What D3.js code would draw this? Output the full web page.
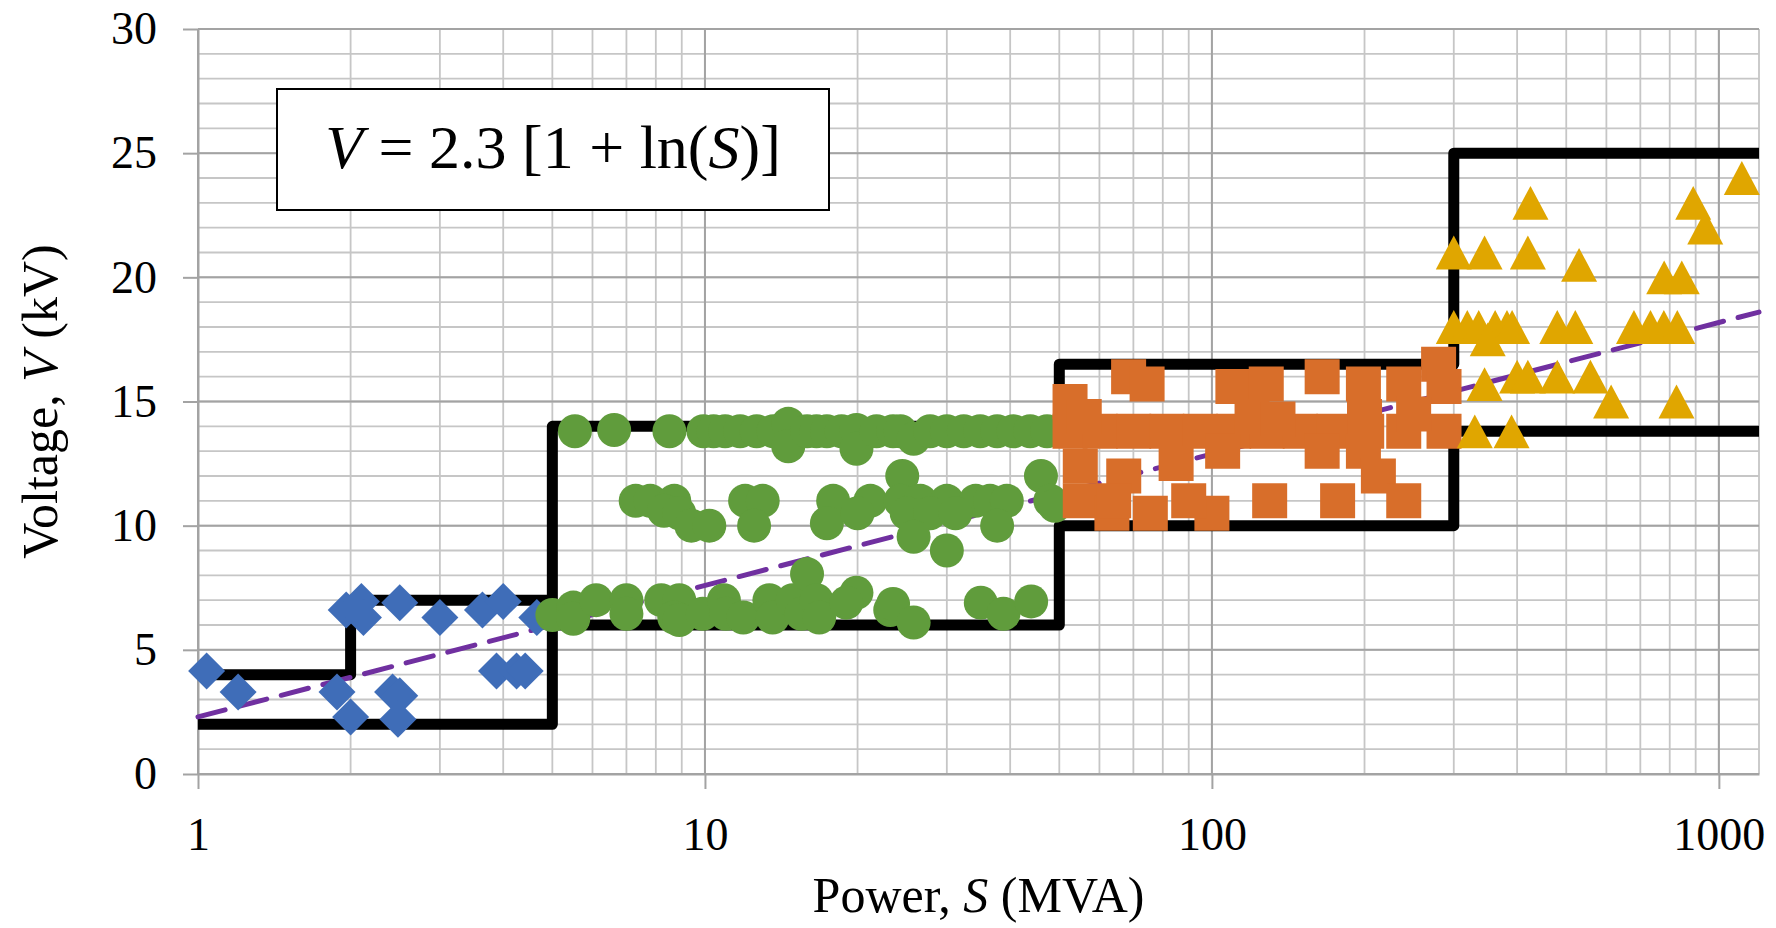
<!DOCTYPE html>
<html>
<head>
<meta charset="utf-8">
<script src="https://cdn.jsdelivr.net/npm/d3@7"></script>
<style>
  body { margin: 0; background: #fff; }
  svg { display: block; font-family: "Liberation Serif", "Times New Roman", serif; }
</style>
</head>
<body>
<svg id="chart" width="1776" height="928"></svg>
<script>
// ---- data ----
// blue diamonds
const blueS = [1.04, 1.2, 1.96, 2.1, 2.12, 1.88, 2.0, 2.5, 3.0, 2.42, 2.5, 2.48, 3.64, 4.0, 3.88, 4.25, 4.42, 4.66];
const blueV = [4.15, 3.3, 6.6, 6.95, 6.3, 3.3, 2.3, 6.9, 6.3, 3.3, 3.15, 2.2, 6.6, 6.95, 4.15, 4.15, 4.15, 6.3];

// green circles
const greenS = [
  5.54, 6.62, 8.51, 9.93, 10.4, 10.96, 11.73, 12.65, 13.65, 14.6, 14.6, 15.9, 16.6, 17.4, 18.6, 19.9, 19.9, 21.8, 23.5, 24.3, 25.8, 27.8, 30.0, 32.4, 34.9, 37.7, 40.6, 43.8, 47.3,
  7.3, 7.8, 8.7, 8.3, 8.9, 9.4, 10.2, 12.0, 13.0, 12.5, 17.9, 21.2, 17.4, 20.0, 24.5, 46.0, 24.3, 26.6, 30.0, 34.2, 36.5, 39.4, 25.0, 27.8, 31.2, 37.7, 25.8, 30.0, 48.0, 49.0,
  5.0, 5.5, 5.5, 6.1, 7.0, 7.0, 8.2, 8.9, 8.7, 8.9, 9.9, 10.9, 11.0, 11.9, 13.4, 13.6, 14.9, 15.9, 15.5, 16.6, 16.8, 19.9, 19.0, 23.2, 23.5, 25.8, 35.0, 38.8, 44.0
];
const greenV = [
  13.8, 13.85, 13.8, 13.8, 13.8, 13.8, 13.8, 13.8, 13.8, 14.1, 13.2, 13.8, 13.8, 13.8, 13.8, 13.85, 13.1, 13.8, 13.8, 13.8, 13.5, 13.8, 13.8, 13.8, 13.8, 13.8, 13.8, 13.8, 13.8,
  11.0, 11.0, 11.0, 10.6, 10.5, 10.0, 10.0, 11.0, 11.0, 10.0, 11.0, 11.0, 10.1, 10.5, 12.0, 12.0, 11.0, 11.0, 11.0, 11.0, 11.0, 11.0, 10.5, 10.5, 10.5, 10.0, 9.55, 9.0, 11.0, 10.8,
  6.4, 6.7, 6.25, 7.0, 7.0, 6.45, 7.0, 7.0, 6.3, 6.2, 6.45, 7.0, 6.45, 6.3, 7.0, 6.3, 7.0, 8.05, 6.45, 7.0, 6.3, 7.3, 6.9, 6.6, 6.85, 6.1, 6.9, 6.45, 6.95
];

// orange squares
const orangeS = [
  52.5, 60.2, 70.1, 81.5, 94.9, 110.4, 128.5, 149.4, 174, 202, 239,
  52.5, 56, 55, 55, 68.5, 74.5, 67, 85, 63.5, 75.6, 100, 64, 90, 105, 110, 128, 130,
  165, 165, 199, 199, 177, 213, 239, 239, 280, 287, 287, 120, 135, 200, 250
];
const orangeV = [
  13.8, 13.8, 13.8, 13.8, 13.8, 13.8, 13.8, 13.8, 13.8, 13.8, 13.8,
  15.0, 14.4, 12.4, 11.0, 16.0, 15.7, 12.0, 12.5, 10.5, 10.5, 10.5, 11.0, 11.0, 13.0, 15.6, 15.7, 11.0,
  16.0, 13.0, 15.7, 13.0, 11.0, 12.0, 11.0, 15.7, 16.5, 15.6, 13.8, 14.4, 14.3, 14.4, 14.5
];

// yellow triangles
const yellowS = [1110, 890, 940, 425, 300, 345, 420, 530, 780, 845,
  300, 319, 336, 362, 382, 391, 480, 521, 680, 733, 779, 828,
  350, 345, 400, 420, 480, 558, 613, 825, 330, 390];
const yellowV = [24.0, 23.0, 22.0, 23.0, 21.0, 21.0, 21.0, 20.5, 20.0, 20.0,
  18.0, 18.0, 18.0, 18.0, 18.0, 18.0, 18.0, 18.0, 18.0, 18.0, 18.0, 18.0,
  17.5, 15.7, 16.0, 16.0, 16.0, 16.0, 15.0, 15.0, 13.8, 13.8];

// voltage band limits (step lines)
const lowerS = [1, 5, 5, 50, 50, 300, 300, 1200];
const lowerV = [2, 2, 6, 6, 10, 10, 13.8, 13.8];
const upperS = [1, 2, 2, 5, 5, 50, 50, 300, 300, 1200];
const upperV = [4, 4, 7, 7, 14, 14, 16.5, 16.5, 25, 25];

// V = 2.3 [1 + ln(S)] trend line end points
const trendS = [1, 1200];
const trendV = [2.3, 18.6];

const xTicks = [1, 10, 100, 1000];
const yTicks = [0, 5, 10, 15, 20, 25, 30];

// ---- layout ----
const W = 1776, H = 928;
const margin = { top: 29, right: 17, bottom: 154, left: 198 };
const width = W - margin.left - margin.right;
const height = H - margin.top - margin.bottom;

const svg = d3.select("#chart");
const g = svg.append("g").attr("transform", `translate(${margin.left},${margin.top})`);

const x = d3.scaleLog().domain([1, 1200]).range([0, width]);
const y = d3.scaleLinear().domain([0, 30]).range([height, 0]);

// grid: minor
g.append("g").selectAll("line").data(x.ticks().concat([1200])).enter().append("line")
  .attr("x1", d => x(d)).attr("x2", d => x(d)).attr("y1", 0).attr("y2", height)
  .attr("stroke", "#c6c6c6").attr("stroke-width", 1.8);
g.append("g").selectAll("line").data(y.ticks(30)).enter().append("line")
  .attr("x1", 0).attr("x2", width).attr("y1", d => y(d)).attr("y2", d => y(d))
  .attr("stroke", "#c6c6c6").attr("stroke-width", 1.8);
// grid: major
g.append("g").selectAll("line").data(xTicks).enter().append("line")
  .attr("x1", d => x(d)).attr("x2", d => x(d)).attr("y1", 0).attr("y2", height)
  .attr("stroke", "#a3a3a3").attr("stroke-width", 2);
g.append("g").selectAll("line").data(yTicks).enter().append("line")
  .attr("x1", 0).attr("x2", width).attr("y1", d => y(d)).attr("y2", d => y(d))
  .attr("stroke", "#a3a3a3").attr("stroke-width", 2);

// axes
const xAxis = g.append("g").attr("transform", `translate(0,${height})`)
  .call(d3.axisBottom(x).tickValues(xTicks).tickFormat(d3.format("d")).tickSize(15).tickSizeOuter(0).tickPadding(28));
const yAxis = g.append("g")
  .call(d3.axisLeft(y).tickValues(yTicks).tickSize(15).tickSizeOuter(0).tickPadding(26));
[xAxis, yAxis].forEach(a => {
  a.select(".domain").attr("stroke", "#a3a3a3").attr("stroke-width", 2);
  a.selectAll(".tick line").attr("stroke", "#a3a3a3").attr("stroke-width", 2);
  a.selectAll(".tick text").attr("fill", "#000").style("font-size", "46px")
    .style("font-family", '"Liberation Serif", "Times New Roman", serif');
});

// step lines
const line = d3.line().x(d => x(d[0])).y(d => y(d[1]));
[[lowerS, lowerV], [upperS, upperV]].forEach(([s, v]) => {
  g.append("path").datum(d3.zip(s, v)).attr("d", line)
    .attr("fill", "none").attr("stroke", "#000").attr("stroke-width", 11)
    .attr("stroke-linejoin", "round");
});

// trend line
g.append("path").datum(d3.zip(trendS, trendV)).attr("d", line)
  .attr("fill", "none").attr("stroke", "#7030a0").attr("stroke-width", 5)
  .attr("stroke-dasharray", "28,15").attr("stroke-linecap", "round");

// markers
const diamond = { draw(ctx, s) { const r = s / 2; ctx.moveTo(0, -r); ctx.lineTo(r, 0); ctx.lineTo(0, r); ctx.lineTo(-r, 0); ctx.closePath(); } };
const square = { draw(ctx, s) { const r = s / 2; ctx.rect(-r, -r, s, s); } };
const triangle = { draw(ctx, s) { const r = s / 2, h = s * 0.47; ctx.moveTo(0, -h); ctx.lineTo(r, h); ctx.lineTo(-r, h); ctx.closePath(); } };
const circle = { draw(ctx, s) { const r = s / 2; ctx.moveTo(r, 0); ctx.arc(0, 0, r, 0, 2 * Math.PI); } };

const series = [
  { s: blueS, v: blueV, type: diamond, size: 37, color: "#3f6db8" },
  { s: greenS, v: greenV, type: circle, size: 34, color: "#609c3c" },
  { s: orangeS, v: orangeV, type: square, size: 35, color: "#d86e2a" },
  { s: yellowS, v: yellowV, type: triangle, size: 36, color: "#e0a600" }
];
series.forEach(ser => {
  g.append("g").selectAll("path").data(d3.zip(ser.s, ser.v)).enter().append("path")
    .attr("transform", d => `translate(${x(d[0])},${y(d[1])})`)
    .attr("d", d3.symbol().type(ser.type).size(ser.size))
    .attr("fill", ser.color);
});

// equation box
const box = svg.append("g");
box.append("rect").attr("x", 277).attr("y", 89).attr("width", 552).attr("height", 121)
  .attr("fill", "#fff").attr("stroke", "#000").attr("stroke-width", 2);
const eq = box.append("text").attr("x", 553).attr("y", 168).attr("text-anchor", "middle")
  .style("font-size", "62px");
eq.append("tspan").style("font-style", "italic").text("V");
eq.append("tspan").text(" = 2.3 [1 + ln(");
eq.append("tspan").style("font-style", "italic").text("S");
eq.append("tspan").text(")]");

// axis titles
const xt = svg.append("text").attr("x", margin.left + width / 2).attr("y", 912)
  .attr("text-anchor", "middle").style("font-size", "50px");
xt.append("tspan").text("Power, ");
xt.append("tspan").style("font-style", "italic").text("S");
xt.append("tspan").text(" (MVA)");

const yt = svg.append("text").attr("transform", `translate(57,${margin.top + height / 2}) rotate(-90)`)
  .attr("text-anchor", "middle").style("font-size", "50px");
yt.append("tspan").text("Voltage, ");
yt.append("tspan").style("font-style", "italic").text("V");
yt.append("tspan").text(" (kV)");
</script>
</body>
</html>
